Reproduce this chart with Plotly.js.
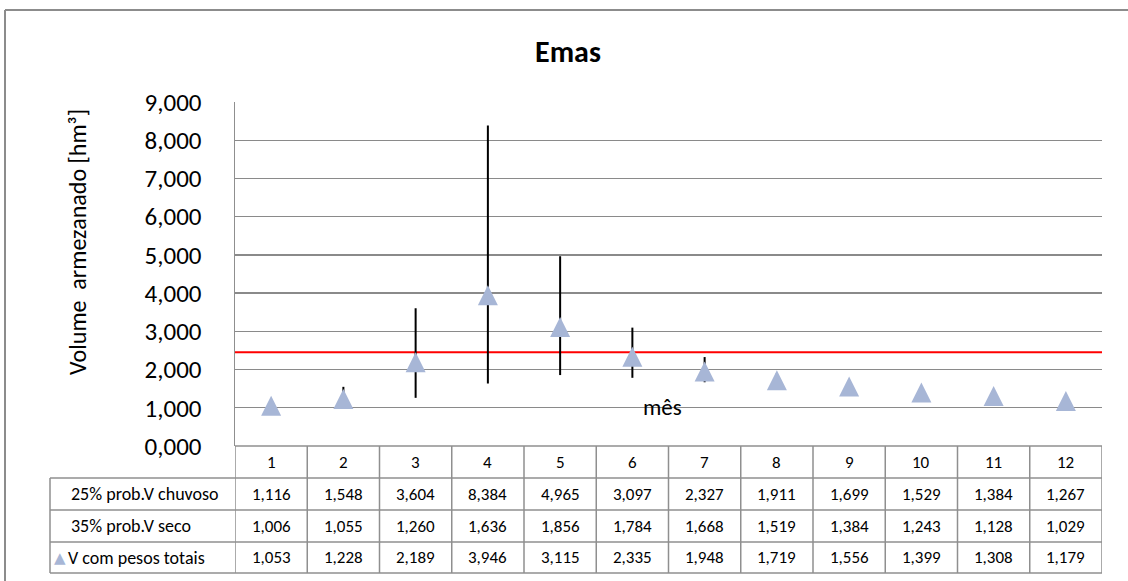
<!DOCTYPE html>
<html>
<head>
<meta charset="utf-8">
<script src="https://cdn.plot.ly/plotly-3.0.1.min.js"></script>
<style>html,body{margin:0;padding:0;background:#fff;overflow:hidden;}#chart{width:1128px;height:581px;}</style>
</head>
<body>
<div id="chart"></div>
<script>
// ---- data ----
const meses = [1, 2, 3, 4, 5, 6, 7, 8, 9, 10, 11, 12];
const vChuvoso = [1.116, 1.548, 3.604, 8.384, 4.965, 3.097, 2.327, 1.911, 1.699, 1.529, 1.384, 1.267];
const vSeco = [1.006, 1.055, 1.260, 1.636, 1.856, 1.784, 1.668, 1.519, 1.384, 1.243, 1.128, 1.029];
const vPesos = [1.053, 1.228, 2.189, 3.946, 3.115, 2.335, 1.948, 1.719, 1.556, 1.399, 1.308, 1.179];
const rowLabels = ['25% prob.V chuvoso', '35% prob.V seco', 'V com pesos totais'];
const limiteVolume = 2.45;
const chartTitle = 'Emas';
const yTitle = 'Volume  armezanado [hm³]';
const xTitle = 'mês';

// ---- layout geometry (pixels) ----
const W = 1128, H = 581;
const L = 235, R = 1102, T = 102, B = 446;
const rowY = [446, 478, 510, 542, 573];
const labelLeft = 50;
const px2x = p => (p - L) / (R - L);
const py2y = p => (B - p) / (B - T);
const FONT = 'Carlito, Lato, "Open Sans", sans-serif';
const gridColor = '#8a8a8a';
const tableColor = '#8f8f8f';
const markerColor = '#a7b6d6';

const yMin = 0, yMax = 9;
const markerSize = 20;
const unitPerPx = (yMax - yMin) / (B - T);
const shift = (markerSize / 2) * unitPerPx;

const fmt = v => v.toFixed(3).replace('.', ',');

// high-low segments
const segX = [], segY = [];
meses.forEach((m, i) => { segX.push(m, m, null); segY.push(vSeco[i], vChuvoso[i], null); });

const traces = [
  {
    x: segX, y: segY, type: 'scatter', mode: 'lines',
    line: {color: '#000000', width: 2}, hoverinfo: 'skip', showlegend: false
  },
  {
    x: meses, y: vPesos, type: 'scatter', mode: 'markers', yaxis: 'y2',
    name: rowLabels[2],
    marker: {symbol: 'arrow-up', size: markerSize, color: markerColor, line: {width: 0}},
    showlegend: false
  }
];

const shapes = [];
const line = (x0, y0, x1, y1, xref, extra) => Object.assign({
  type: 'line', xref: xref, yref: 'paper', x0: x0, y0: y0, x1: x1, y1: y1,
  line: {color: tableColor, width: 1.5}, layer: 'above'
}, extra || {});

// outer chart border (top and left edges visible)
shapes.push(line(px2x(5), py2y(10), px2x(W + 30), py2y(10), 'paper', {line: {color: '#8c8c8c', width: 2}}));
shapes.push(line(px2x(5), py2y(10), px2x(5), py2y(H + 30), 'paper', {line: {color: '#8c8c8c', width: 2}}));

// red reference line
shapes.push({type: 'line', xref: 'paper', yref: 'y', x0: 0, x1: 1, y0: limiteVolume, y1: limiteVolume,
  line: {color: '#ff0000', width: 2}, layer: 'below'});

// table horizontal lines
shapes.push(line(px2x(L), py2y(rowY[0]), 1, py2y(rowY[0]), 'paper'));
for (let r = 1; r < rowY.length; r++) {
  shapes.push(line(px2x(labelLeft), py2y(rowY[r]), 1, py2y(rowY[r]), 'paper'));
}
// table vertical lines
for (let k = 0; k <= meses.length; k++) {
  const xv = meses[0] - 0.5 + k;
  shapes.push(line(xv, py2y(rowY[0]), xv, py2y(rowY[4]), 'x'));
}
shapes.push(line(px2x(labelLeft), py2y(rowY[1]), px2x(labelLeft), py2y(rowY[4]), 'paper'));

const TABLE_FS = 17;
const annotations = [];
// header row (month numbers)
meses.forEach(m => annotations.push({
  x: m, xref: 'x', y: py2y((rowY[0] + rowY[1]) / 2), yref: 'paper', text: String(m),
  showarrow: false, xanchor: 'center', yanchor: 'middle', font: {family: FONT, size: TABLE_FS, color: '#000'}
}));
const rows = [vChuvoso, vSeco, vPesos];
rows.forEach((arr, r) => {
  const yc = py2y((rowY[r + 1] + rowY[r + 2]) / 2);
  arr.forEach((v, i) => annotations.push({
    x: meses[i], xref: 'x', y: yc, yref: 'paper', text: fmt(v),
    showarrow: false, xanchor: 'center', yanchor: 'middle', font: {family: FONT, size: TABLE_FS, color: '#000'}
  }));
  annotations.push({
    x: px2x(r === 2 ? 66 : 69), xref: 'paper', y: yc, yref: 'paper', text: rowLabels[r],
    showarrow: false, xanchor: 'left', yanchor: 'middle', font: {family: FONT, size: 18, color: '#000'}
  });
});
// legend key in table
annotations.push({
  x: px2x(52), xref: 'paper', y: py2y((rowY[3] + rowY[4]) / 2), yref: 'paper', text: '▲',
  showarrow: false, xanchor: 'left', yanchor: 'middle', font: {family: 'DejaVu Sans', size: 15, color: markerColor}
});
// axis titles
annotations.push({
  x: px2x(78), xref: 'paper', y: py2y(242), yref: 'paper', text: yTitle, textangle: -90,
  showarrow: false, xanchor: 'center', yanchor: 'middle', font: {family: FONT, size: 24, color: '#000'}
});
annotations.push({
  x: px2x(662), xref: 'paper', y: py2y(407), yref: 'paper', text: xTitle,
  showarrow: false, xanchor: 'center', yanchor: 'middle', font: {family: FONT, size: 23, color: '#000'}
});

const layout = {
  width: W, height: H,
  margin: {l: L, r: W - R, t: T, b: H - B, pad: 0},
  paper_bgcolor: '#ffffff', plot_bgcolor: '#ffffff',
  separators: ',.',
  showlegend: false,
  title: {text: '<b>' + chartTitle + '</b>', x: 568 / W, xref: 'container', xanchor: 'center',
    y: 1 - 51 / H, yref: 'container', yanchor: 'middle',
    font: {family: FONT, size: 30, color: '#000'}},
  xaxis: {range: [0.5, 12.5], showgrid: false, zeroline: false, showticklabels: false, ticks: '',
    showline: false, fixedrange: true},
  yaxis: {range: [yMin, yMax], dtick: 1, tick0: 0, tickformat: '.3f', showgrid: true,
    gridcolor: gridColor, gridwidth: 1.3, zeroline: false, showline: true, linecolor: tableColor, linewidth: 1.5,
    ticks: '', ticklabelstandoff: 27, tickfont: {family: FONT, size: 25, color: '#000'}, fixedrange: true},
  yaxis2: {range: [yMin - shift, yMax - shift], overlaying: 'y', visible: false, fixedrange: true},
  shapes: shapes,
  annotations: annotations
};

Plotly.newPlot('chart', traces, layout, {staticPlot: true, displayModeBar: false});
</script>
</body>
</html>
